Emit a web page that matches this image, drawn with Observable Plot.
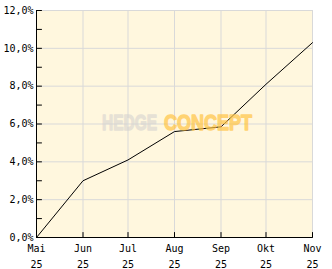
<!DOCTYPE html>
<html><head><meta charset="utf-8">
<script src="https://cdn.jsdelivr.net/npm/d3@7"></script>
<script src="https://cdn.jsdelivr.net/npm/@observablehq/plot@0.6"></script>
<style>body{margin:0;background:#fff}</style>
</head><body><div id="chart"></div>
<script>
const months = ["2025-05-01","2025-06-01","2025-07-01","2025-08-01","2025-09-01","2025-10-01","2025-11-01"];
const monthLabels = ["Mai","Jun","Jul","Aug","Sep","Okt","Nov"];
const yearLabels = ["25","25","25","25","25","25","25"];
const values = [0, 3.0, 4.1, 5.6, 5.85, 8.1, 10.3];
const yTicks = [0, 2, 4, 6, 8, 10, 12];
const yMinorTicks = [1, 3, 5, 7, 9, 11];
const watermarkWords = ["HEDGE", "CONCEPT"];

const dates = months.map(s => new Date(s + "T00:00:00Z"));
const series = dates.map((d, i) => ({date: d, value: values[i]}));
const xLabels = dates.map((d, i) => ({date: d, month: monthLabels[i], year: yearLabels[i]}));
const allY = yTicks.concat(yMinorTicks);
const lineShape = {draw(ctx, l) { ctx.moveTo(0, 0); ctx.lineTo(0, -l); }};
const font = "DejaVu Sans Mono";
const wmFont = "Liberation Sans Narrow, Liberation Sans, sans-serif";

const chart = Plot.plot({
  width: 332, height: 269,
  marginTop: 10, marginRight: 20, marginBottom: 32, marginLeft: 36,
  style: {background: "#fff", fontFamily: font, fontSize: "10px", color: "#000", overflow: "visible"},
  x: {type: "utc", domain: [dates[0], dates[dates.length - 1]], axis: null},
  y: {domain: [0, 12], axis: null, label: null},
  marks: [
    Plot.frame({fill: "#fff7de", stroke: null}),
    Plot.gridX(dates, {stroke: "#d9d9d9", strokeOpacity: 1}),
    Plot.gridY(yTicks, {stroke: "#d9d9d9", strokeOpacity: 1}),
    Plot.line(series, {x: "date", y: "value", stroke: "#000", strokeWidth: 1}),
    Plot.text([watermarkWords[0]], {text: d => d, frameAnchor: "middle", dx: -45, dy: -1.5, textAnchor: "middle", lineAnchor: "middle",
      fontSize: 22, fontWeight: "bold", fontFamily: wmFont, fill: "#d6d3d0", stroke: "#d6d3d0", strokeWidth: 1.3, opacity: 0.6}),
    Plot.text([watermarkWords[1]], {text: d => d, frameAnchor: "middle", dx: 33.5, dy: -1.5, textAnchor: "middle", lineAnchor: "middle",
      fontSize: 22, fontWeight: "bold", fontFamily: wmFont, fill: "#ffc445", stroke: "#ffc445", strokeWidth: 1.3, opacity: 0.7}),
    Plot.ruleX([dates[0]], {stroke: "#000", strokeWidth: 1}),
    Plot.ruleY([0], {stroke: "#000", strokeWidth: 1}),
    Plot.vector(allY, {y: d => d, frameAnchor: "left", rotate: 90, length: 5, anchor: "start", shape: lineShape, stroke: "#000", strokeWidth: 1}),
    Plot.vector(dates, {x: d => d, frameAnchor: "bottom", rotate: 0, length: 5, anchor: "start", shape: lineShape, stroke: "#000", strokeWidth: 1}),
    Plot.axisY(yTicks, {label: null, tickSize: 0, tickPadding: 3, tickFormat: d => d.toFixed(1).replace(".", ",") + "%", fontFamily: font, fontSize: 10, fill: "#000"}),
    Plot.text(xLabels, {x: "date", text: "month", frameAnchor: "bottom", dy: 11.5, lineAnchor: "middle", fontFamily: font, fontSize: 10, fill: "#000"}),
    Plot.text(xLabels, {x: "date", text: "year", frameAnchor: "bottom", dy: 27, lineAnchor: "middle", fontFamily: font, fontSize: 10, fill: "#000"})
  ]
});
document.getElementById("chart").appendChild(chart);
d3.select(chart).selectAll("text").each(function() {
  const t = this.textContent;
  if (t === watermarkWords[0]) d3.select(this).attr("textLength", 55).attr("lengthAdjust", "spacingAndGlyphs");
  if (t === watermarkWords[1]) d3.select(this).attr("textLength", 88).attr("lengthAdjust", "spacingAndGlyphs");
});
</script></body></html>
